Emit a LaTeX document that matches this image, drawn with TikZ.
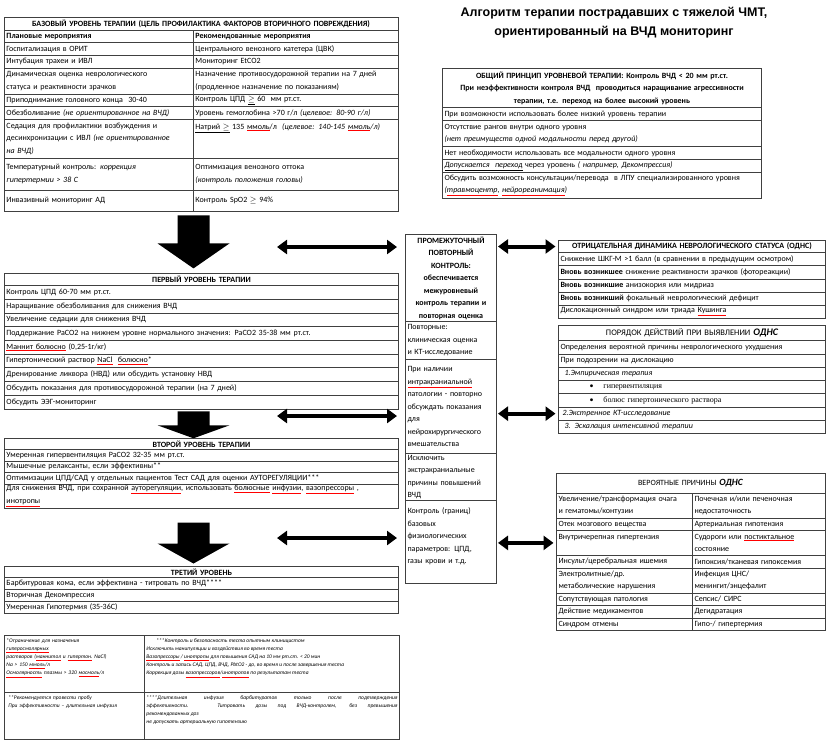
\documentclass[tikz,border=0pt]{standalone}
\usepackage{fontspec}
\setmainfont{Carlito}
\newfontfamily\titlefont{Liberation Sans}
\newfontfamily\serifru{Liberation Serif}
\usetikzlibrary{arrows.meta,positioning,calc,matrix}

\newcommand\rowfont{\fontsize{8}{12.5}\selectfont}
\newcommand\fnfont{\fontsize{5.5}{8.2}\selectfont\itshape}
\newcommand\sq[1]{\textcolor{red}{\underline{\textcolor{black}{#1}}}}
\newcommand\blkarrow[3]{\fill ([xshift=-16pt]#1) -- ++(0,#2) -- ++(-20,0) -- ++(36,#3) -- ++(36,-#3) -- ++(-20,0) -- ++(0,-#2) -- cycle;}

\begin{document}
\begin{tikzpicture}[x=1pt, y=-1pt,
  every node/.style={font=\rowfont},
  box/.style={draw=black!75, line width=0.6pt, outer sep=0pt, inner xsep=2pt, inner ysep=1pt, align=left, anchor=center},
  hdr/.style={font=\rowfont\bfseries, align=center},
  bold/.style={font=\rowfont\bfseries},
  tbl/.style={matrix of nodes, row sep=-0.6pt, column sep=-0.6pt, inner sep=0pt, anchor=north west},
  dbl/.style={line width=4pt, >={Triangle[width=14pt,length=10pt]}, <->}
]
  \useasboundingbox (0,0) rectangle (827,744);

  % --- Titel ---
  \node[font=\titlefont\bfseries\fontsize{12.5}{19}\selectfont, align=center] (title) at (614,23)
    {Алгоритм терапии пострадавших с тяжелой ЧМТ,\\ориентированный на ВЧД мониторинг};

  % --- Базовый уровень ---
  \node[box, hdr, anchor=north west, text width=390pt, minimum height=13pt] (bth) at (4,17)
    {БАЗОВЫЙ УРОВЕНЬ ТЕРАПИИ (ЦЕЛЬ ПРОФИЛАКТИКА ФАКТОРОВ ВТОРИЧНОГО ПОВРЕЖДЕНИЯ)};
  \matrix (bt) [tbl, below right=-0.6pt and 0pt of bth.south west,
    nodes={box, minimum height=12.8pt},
    column 1/.style={nodes={text width=185pt}},
    column 2/.style={nodes={text width=201pt}},
    row 4/.style={nodes={minimum height=25.6pt}},
    row 7/.style={nodes={minimum height=38.4pt}},
    row 8/.style={nodes={minimum height=32pt}},
    row 9/.style={nodes={minimum height=21pt}}
  ]{
    |[bold]| Плановые мероприятия & |[bold]| Рекомендованные мероприятия \\
    Госпитализация в ОРИТ & Центрального венозного катетера (ЦВК) \\
    Интубация трахеи и ИВЛ & Мониторинг EtCO2 \\
    {Динамическая оценка неврологического\\статуса и реактивности зрачков} & {Назначение противосудорожной терапии на 7 дней\\(продленное назначение по показаниям)} \\
    Приподнимание головного конца~~30-40 & Контроль ЦПД \underline{$\geq$} 60~~мм рт.ст. \\
    Обезболивание \textit{(не ориентированное на ВЧД)} & Уровень гемоглобина >70 г/л \textit{(целевое: 80-90 г/л)} \\
    {Седация для профилактики возбуждения и\\десинхронизации с ИВЛ \textit{(не ориентированное}\\\textit{на ВЧД)}} & {\underline{Натрий $\geq$} 135 \sq{ммоль}/л~~\textit{(целевое: 140-145 \sq{ммоль}/л)}\\~\\~} \\
    {Температурный контроль: \textit{коррекция}\\\textit{гипертермии > 38 С}} & {Оптимизация венозного оттока\\\textit{(контроль положения головы)}} \\
    Инвазивный мониторинг АД & Контроль SpO2 $\geq$ 94\% \\
  };

  % --- Общий принцип ---
  \matrix (gp) at (442,68) [tbl,
    nodes={box, text width=315pt, minimum height=13pt},
    row 1/.style={nodes={minimum height=39pt}},
    row 3/.style={nodes={minimum height=26pt}},
    row 6/.style={nodes={minimum height=26pt}}
  ]{
    |[hdr]| {ОБЩИЙ ПРИНЦИП УРОВНЕВОЙ ТЕРАПИИ: Контроль ВЧД < 20 мм рт.ст.\\При неэффективности контроля ВЧД~~проводиться наращивание агрессивности\\терапии, т.е. переход на более высокий уровень} \\
    При возможности использовать более низкий уровень терапии \\
    {Отсутствие рангов внутри одного уровня\\\textit{(нет преимуществ одной модальности перед другой)}} \\
    Нет необходимости использовать все модальности одного уровня \\
    \textit{\underline{Допускается~~переход}} через уровень \textit{( например, Декомпрессия)} \\
    {Обсудить возможность консультации/перевода~~в ЛПУ специализированного уровня\\\textit{(\sq{травмоцентр}, \sq{нейрореанимация})}} \\
  };

  % --- Промежуточный контроль ---
  \matrix (mb) at (405,234) [tbl,
    nodes={box, text width=87pt},
    row 1/.style={nodes={minimum height=87pt}},
    row 2/.style={nodes={minimum height=38pt}},
    row 3/.style={nodes={minimum height=94pt}},
    row 4/.style={nodes={minimum height=47pt}},
    row 5/.style={nodes={minimum height=83pt}}
  ]{
    |[hdr]| {ПРОМЕЖУТОЧНЫЙ\\ПОВТОРНЫЙ\\КОНТРОЛЬ:\\обеспечивается\\межуровневый\\контроль терапии и\\повторная оценка} \\
    {Повторные:\\клиническая оценка\\и КТ-исследование} \\
    {При наличии\\\sq{интракраниальной}\\патологии - повторно\\обсуждать показания\\для\\нейрохирургического\\вмешательства} \\
    {Исключить\\экстракраниальные\\причины повышений\\ВЧД} \\
    {Контроль (границ)\\базовых\\физиологических\\параметров: ЦПД,\\газы крови и т.д.\\~} \\
  };

  % --- ОДНС ---
  \matrix (od) at (558,240) [tbl,
    nodes={box, text width=263pt, minimum height=13.2pt},
    row 1/.style={nodes={minimum height=12pt}}
  ]{
    |[hdr]| ОТРИЦАТЕЛЬНАЯ ДИНАМИКА НЕВРОЛОГИЧЕСКОГО СТАТУСА (ОДНС) \\
    Снижение ШКГ-М >1 балл (в сравнении в предыдущим осмотром) \\
    \textbf{Вновь возникшее} снижение реактивности зрачков (фотореакции) \\
    \textbf{Вновь возникшие} анизокория или мидриаз \\
    \textbf{Вновь возникший} фокальный неврологический дефицит \\
    Дислокационный синдром или триада \sq{Кушинга} \\
  };

  \matrix (pd) at (558,325) [tbl,
    nodes={box, text width=263pt, minimum height=13.3pt},
    row 1/.style={nodes={minimum height=15pt}}
  ]{
    |[hdr, font=\fontsize{8.5}{12}\selectfont]| ПОРЯДОК ДЕЙСТВИЙ ПРИ ВЫЯВЛЕНИИ {\fontsize{10}{12}\selectfont\bfseries\itshape ОДНС} \\
    Определения вероятной причины неврологического ухудшения \\
    При подозрении на дислокацию \\
    \hspace*{4pt}\textit{1.Эмпирическая терапия} \\
    \hspace*{29pt}\textbullet\hspace{10pt}{\serifru гипервентиляция} \\
    \hspace*{29pt}\textbullet\hspace{10pt}{\serifru болюс гипертонического раствора} \\
    \hspace*{2pt}\textit{2.Экстренное КТ-исследование} \\
    \hspace*{4pt}\textit{3. Эскалация интенсивной терапии} \\
  };

  \node[box, anchor=north west, text width=265pt, minimum height=20pt, align=center] (vph) at (556,473)
    {ВЕРОЯТНЫЕ ПРИЧИНЫ {\fontsize{9.5}{12}\selectfont\bfseries\itshape ОДНС}};
  \matrix (vp) [tbl, below right=-0.6pt and 0pt of vph.south west,
    nodes={box, minimum height=12.5pt},
    column 1/.style={nodes={text width=132pt}},
    column 2/.style={nodes={text width=129pt}},
    row 1/.style={nodes={minimum height=25pt}},
    row 3/.style={nodes={minimum height=25pt}},
    row 5/.style={nodes={minimum height=25pt}}
  ]{
    {Увеличение/трансформация очага\\и гематомы/контузии} & {Почечная и/или печеночная\\недостаточность} \\
    Отек мозгового вещества & Артериальная гипотензия \\
    {Внутричерепная гипертензия\\~} & {Судороги или \sq{постиктальное}\\состояние} \\
    Инсульт/церебральная ишемия & Гипоксия/тканевая гипоксемия \\
    {Электролитные/др.\\метаболические нарушения} & {Инфекция ЦНС/\\менингит/энцефалит} \\
    Сопутствующая патология & Сепсис/ СИРС \\
    Действие медикаментов & Дегидратация \\
    Синдром отмены & Гипо-/ гипертермия \\
  };

  % --- Уровни терапии ---
  \matrix (l1) at (4,273) [tbl,
    nodes={box, text width=390pt, minimum height=13.7pt},
    row 1/.style={nodes={minimum height=12pt}}
  ]{
    |[hdr]| ПЕРВЫЙ УРОВЕНЬ ТЕРАПИИ \\
    Контроль ЦПД 60-70 мм рт.ст. \\
    Наращивание обезболивания для снижения ВЧД \\
    Увеличение седации для снижения ВЧД \\
    Поддержание PaCO2 на нижнем уровне нормального значения: PaCO2 35-38 мм рт.ст. \\
    \sq{Маннит болюсно} (0,25-1г/кг) \\
    Гипертонический раствор \sq{NaCl}~~\sq{болюсно}* \\
    Дренирование ликвора (НВД) или обсудить установку НВД \\
    Обсудить показания для противосудорожной терапии (на 7 дней) \\
    Обсудить ЭЭГ-мониторинг \\
  };

  \matrix (l2) at (4,438) [tbl,
    nodes={box, text width=390pt, minimum height=11.5pt},
    row 1/.style={nodes={minimum height=11pt}},
    row 5/.style={nodes={minimum height=24pt}}
  ]{
    |[hdr]| ВТОРОЙ УРОВЕНЬ ТЕРАПИИ \\
    Умеренная гипервентиляция PaCO2 32-35 мм рт.ст. \\
    Мышечные релаксанты, если эффективны** \\
    Оптимизации ЦПД/САД у отдельных пациентов Тест САД для оценки АУТОРЕГУЛЯЦИИ*** \\
    {Для снижения ВЧД, при сохранной \sq{ауторегуляции}, использовать \sq{болюсные} \sq{инфузии}, \sq{вазопрессоры}~,\\\sq{инотропы}} \\
  };

  \matrix (l3) at (4,566) [tbl,
    nodes={box, text width=390pt, minimum height=12pt},
    row 1/.style={nodes={minimum height=11pt}}
  ]{
    |[hdr]| ТРЕТИЙ УРОВЕНЬ \\
    Барбитуровая кома, если эффективна - титровать по ВЧД**** \\
    Вторичная Декомпрессия \\
    Умеренная Гипотермия (35-36С) \\
  };

  % --- Примечания ---
  \matrix (fn) at (4,635) [tbl,
    nodes={box, font=\fnfont, text height=5pt, inner ysep=1.5pt},
    column 1/.style={nodes={text width=136pt}},
    column 2/.style={nodes={text width=251pt, align=justify}},
    row 1/.style={nodes={text depth=49pt}},
    row 2/.style={nodes={text depth=39pt}}
  ]{
    {*Ограничение для назначения\\\sq{гиперосмолярных}\\растворов (\sq{маннитол} и \sq{гипертон.} NaCl)\\Na > 150 \sq{ммоль}/л\\\sq{Осмолярность} плазмы > 320 \sq{мосмоль}/л} &
    {\hspace*{10pt}***Контроль и безопасность теста опытным клиницистом\\Исключить манипуляции и воздействия во время теста\\\sq{Вазопрессоры} / \sq{инотропы} для повышения САД на 10 мм рт.ст. < 20 мин\\Контроль и запись САД, ЦПД, ВЧД, PbtO2 - до, во время и после завершения теста\\Коррекция дозы \sq{вазопрессоров}/\sq{инотропов} по результатам теста} \\
    {\hspace*{2pt}**Рекомендуется провести пробу\\\hspace*{2pt}При эффективности – длительная инфузия} &
    {****Длительная инфузия барбитуратов только после подтверждения\linebreak эффективности. Титровать дозы под ВЧД-контролем, без превышения\linebreak рекомендованных доз\\не допускать артериальную гипотензию} \\
  };

  % Блочные стрелки между уровнями
  \coordinate (ba1) at ($(bt.south -| bt-9-1.east)+(0,4)$);
  \coordinate (ba2) at ($(l1.south -| ba1)+(0,2)$);
  \coordinate (ba3) at ($(l2.south -| ba1)+(0,14)$);
  \blkarrow{ba1}{28}{25}
  \blkarrow{ba2}{14}{13}
  \blkarrow{ba3}{21}{20}

  % Двойные стрелки
  \coordinate (la1) at (277,247);
  \coordinate (la2) at (277,416);
  \coordinate (la3) at (277,538);
  \draw[dbl, shorten >=8pt] (la1) -- (la1 -| mb.west);
  \draw[dbl, shorten >=8pt] (la2) -- (la2 -| mb.west);
  \draw[dbl, shorten >=8pt] (la3) -- (la3 -| mb.west);
  \draw[dbl, shorten <=1pt, shorten >=3pt] (mb.east |- od-1-1.west) -- (od-1-1.west);
  \draw[dbl, shorten <=1pt, shorten >=3pt] (mb.east |- pd-7-1.west) -- (pd-7-1.west);
  \draw[dbl, shorten <=1pt, shorten >=3pt] (mb.east |- vp-3-1.west) -- (vp-3-1.west);
\end{tikzpicture}
\end{document}
